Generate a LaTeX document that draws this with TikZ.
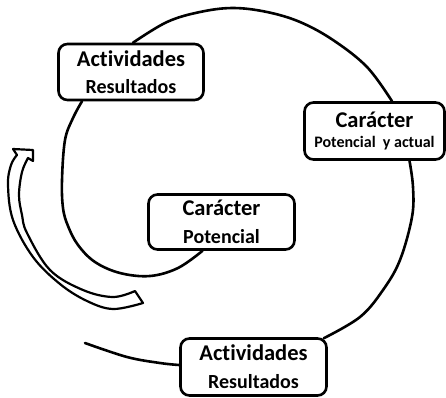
\documentclass[tikz,border=0pt]{standalone}
\usepackage{fontspec}
\setmainfont[Ligatures=NoCommon]{Carlito}
\begin{document}
\begin{tikzpicture}[x=1pt,y=-1pt,
  box/.style={draw, line width=2.6pt, rounded corners=9pt, align=center, inner sep=0pt, fill=white},
  spiral/.style={line width=2.6pt, line cap=round},
  hollow/.style={line width=2.2pt, line join=round}]
\useasboundingbox (0,0) rectangle (446,397);
\coordinate (e) at (85,343);
\node[box, minimum width=145pt, minimum height=56pt, font=\bfseries\fontsize{20}{26.5}\selectfont] (A) at (131,72)
  {{\fontsize{22.5}{26.5}\selectfont Actividades}\\Resultados};
\node[box, minimum width=140pt, minimum height=57pt, font=\bfseries\fontsize{16}{20.5}\selectfont] (B) at (374.5,131)
  {{\fontsize{22.5}{20.5}\selectfont Carácter}\\Potencial~ y actual};
\node[box, minimum width=146pt, minimum height=55pt, font=\bfseries\fontsize{20}{28}\selectfont] (C) at (221.5,222)
  {{\fontsize{22.5}{28}\selectfont Carácter}\\Potencial};
\node[box, minimum width=146pt, minimum height=57pt, font=\bfseries\fontsize{20}{28}\selectfont] (D) at (253.5,367)
  {{\fontsize{22.5}{28}\selectfont Actividades}\\Resultados};
\draw[spiral] plot[smooth, tension=0.6] coordinates {([xshift=-19pt]C.south) (178,268) (150,276) (120,273) (95,262) (78,245) (68,226) (63,208) (62,180) (65,140) (73,118) ([xshift=-49pt]A.south)};
\draw[spiral] plot[smooth, tension=0.6] coordinates {([xshift=2pt]A.north) (167,22) (200,12) (233,8) (267,12) (300,22) (333,40) (367,67) ([xshift=17.5pt]B.north)};
\draw[spiral] plot[smooth, tension=0.6] coordinates {([xshift=35pt]B.south) (413,187) (412,217) (400,260) (383,290) (360,317) ([shift={(-4pt,-1pt)}]D.north east)};
\draw[spiral] plot[smooth, tension=0.6] coordinates {([yshift=2pt]D.west) (160,363) (127,357) (e)};
% hollow curved arrow
\draw[hollow] plot[smooth, tension=0.6] coordinates {(143,303) (113,309) (87,301) (60,284) (33,257) (13,220) (8,185) (11,165) (17,155)}
  -- (13,149) -- (33,150) -- (33,161)
  -- plot[smooth, tension=0.6] coordinates {(28,158) (22,172) (19,195) (22,215) (27,233) (50,270) (83,290) (113,297) (135,291)} -- cycle;
\end{tikzpicture}
\end{document}
